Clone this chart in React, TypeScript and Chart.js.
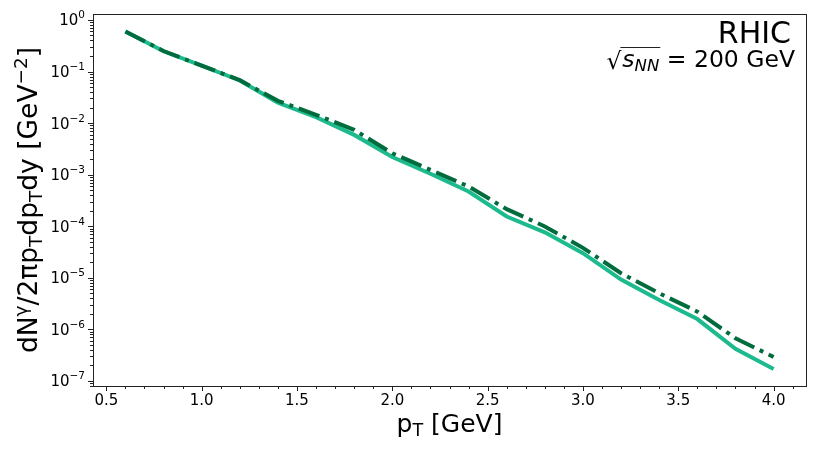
import { useEffect, useRef } from "react";
import { Chart, registerables } from "chart.js";

Chart.register(...registerables);

// ---- data ----
const pT = [0.6, 0.8, 1.0, 1.2, 1.4, 1.6, 1.8, 2.0, 2.2, 2.4, 2.6, 2.8, 3.0, 3.2, 3.4, 3.6, 3.8, 4.0];
const solidYield = [0.6, 0.247, 0.13, 0.067, 0.025, 0.013, 0.0059, 0.0022, 0.00104, 0.00047, 0.000154, 7.6e-5, 3.0e-5, 9.2e-6, 3.7e-6, 1.58e-6, 4.2e-7, 1.7e-7];
const dashYield = [0.6, 0.25, 0.13, 0.068, 0.027, 0.0145, 0.0074, 0.0026, 0.00124, 0.00059, 0.000214, 9.9e-5, 3.8e-5, 1.22e-5, 5.0e-6, 2.2e-6, 6.7e-7, 2.9e-7];
const xTickValues = [0.5, 1.0, 1.5, 2.0, 2.5, 3.0, 3.5, 4.0];
const xTickLabels = ["0.5", "1.0", "1.5", "2.0", "2.5", "3.0", "3.5", "4.0"];
const yDecades = [0, -1, -2, -3, -4, -5, -6, -7];

const FONT = "'DejaVu Sans', sans-serif";

type Seg = { t: string; s: number; dy?: number; it?: boolean };

function segFont(sg: Seg) {
  return `${sg.it ? "italic " : ""}${sg.s}px ${FONT}`;
}
function richWidth(ctx: CanvasRenderingContext2D, segs: Seg[]) {
  let w = 0;
  for (const sg of segs) {
    ctx.font = segFont(sg);
    w += ctx.measureText(sg.t).width;
  }
  return w;
}
function drawRich(ctx: CanvasRenderingContext2D, segs: Seg[], x: number, y: number, align: "left" | "center" | "right") {
  const w = richWidth(ctx, segs);
  let cx = align === "left" ? x : align === "center" ? x - w / 2 : x - w;
  ctx.textAlign = "left";
  ctx.textBaseline = "alphabetic";
  for (const sg of segs) {
    ctx.font = segFont(sg);
    ctx.fillText(sg.t, cx, y + (sg.dy || 0));
    cx += ctx.measureText(sg.t).width;
  }
}

const axesPlugin = {
  id: "mplAxes",
  afterDraw(chart: any) {
    const ctx: CanvasRenderingContext2D = chart.ctx;
    const { left, right, top, bottom } = chart.chartArea;
    const xs = chart.scales.x;
    const ys = chart.scales.y;
    ctx.save();
    ctx.strokeStyle = "#222";
    ctx.fillStyle = "#000";
    ctx.lineWidth = 1;
    // frame
    ctx.strokeRect(Math.round(left) + 0.5, Math.round(top) + 0.5, Math.round(right - left), Math.round(bottom - top));

    // x ticks
    ctx.beginPath();
    for (let i = 4; i <= 41; i++) {
      const v = i / 10;
      const px = Math.round(xs.getPixelForValue(v)) + 0.5;
      if (px < left || px > right) continue;
      const major = i % 5 === 0;
      ctx.moveTo(px, bottom);
      ctx.lineTo(px, bottom + (major ? 5 : 3));
    }
    ctx.stroke();
    ctx.font = `15px ${FONT}`;
    ctx.textAlign = "center";
    ctx.textBaseline = "alphabetic";
    xTickValues.forEach((v, i) => {
      ctx.fillText(xTickLabels[i], xs.getPixelForValue(v), bottom + 19);
    });

    // y ticks
    ctx.beginPath();
    for (let d = -8; d <= 0; d++) {
      for (let m = 1; m <= 9; m++) {
        const v = m * Math.pow(10, d);
        const py = Math.round(ys.getPixelForValue(v)) + 0.5;
        if (py < top - 0.5 || py > bottom + 0.5) continue;
        ctx.moveTo(left, py);
        ctx.lineTo(left - (m === 1 ? 5 : 3), py);
      }
    }
    ctx.stroke();
    yDecades.forEach((d) => {
      const py = ys.getPixelForValue(Math.pow(10, d));
      const exp = d === 0 ? "0" : "\u2212" + String(-d);
      drawRich(ctx, [{ t: "10", s: 15 }, { t: exp, s: 10.5, dy: -7 }], left - 8, py + 5.5, "right");
    });

    // x label
    drawRich(
      ctx,
      [
        { t: "p", s: 25 },
        { t: "T", s: 17.5, dy: 4 },
        { t: " [GeV]", s: 25 },
      ],
      (left + right) / 2,
      432,
      "center"
    );

    // y label
    ctx.save();
    ctx.translate(37, (top + bottom) / 2);
    ctx.rotate(-Math.PI / 2);
    drawRich(
      ctx,
      [
        { t: "dN", s: 26.5 },
        { t: "\u03b3", s: 18.5, dy: -10.5 },
        { t: "/2\u03c0p", s: 26.5 },
        { t: "T", s: 18.5, dy: 4.5 },
        { t: "dp", s: 26.5 },
        { t: "T", s: 18.5, dy: 4.5 },
        { t: "dy [GeV", s: 26.5 },
        { t: "\u22122", s: 18.5, dy: -10.5 },
        { t: "]", s: 26.5 },
      ],
      0,
      0,
      "center"
    );
    ctx.restore();

    // annotations
    drawRich(ctx, [{ t: "RHIC", s: 30 }], right - 15, 43, "right");

    const line2: Seg[] = [
      { t: "s", s: 23.5, it: true },
      { t: "NN", s: 16.5, dy: 4, it: true },
      { t: " = 200 GeV", s: 23.5 },
    ];
    const w2 = richWidth(ctx, line2);
    const x2 = right - 11 - w2;
    const base2 = 67;
    drawRich(ctx, line2, x2, base2, "left");
    // sqrt sign
    ctx.font = `23.5px ${FONT}`;
    const sqrtW = ctx.measureText("\u221a").width;
    ctx.textAlign = "left";
    ctx.fillText("\u221a", x2 - sqrtW - 1, base2 + 2);
    // overline over s_NN
    ctx.font = `italic 23.5px ${FONT}`;
    let sw = ctx.measureText("s").width;
    ctx.font = `italic 16.5px ${FONT}`;
    sw += ctx.measureText("NN").width;
    ctx.beginPath();
    ctx.lineWidth = 1;
    ctx.moveTo(x2 - 2, base2 - 19.5);
    ctx.lineTo(x2 + sw + 1, base2 - 19.5);
    ctx.stroke();

    ctx.restore();
  },
};

export default function App() {
  const ref = useRef<HTMLCanvasElement | null>(null);
  useEffect(() => {
    document.body.style.margin = "0";
    const canvas = ref.current;
    if (!canvas) return;
    const chart = new Chart(canvas, {
      type: "line",
      data: {
        datasets: [
          {
            label: "dash-dot",
            data: pT.map((x, i) => ({ x, y: dashYield[i] })),
            borderColor: "#006b3c",
            borderWidth: 4,
            borderDash: [22, 6, 4, 6],
            borderCapStyle: "butt",
            pointRadius: 0,
            fill: false,
            tension: 0,
            order: 0,
          },
          {
            label: "solid",
            data: pT.map((x, i) => ({ x, y: solidYield[i] })),
            borderColor: "#1cba8c",
            borderWidth: 4,
            pointRadius: 0,
            fill: false,
            tension: 0,
            order: 1,
          },
        ],
      },
      options: {
        responsive: false,
        animation: false,
        devicePixelRatio: 1,
        layout: { padding: { left: 93, right: 24, top: 14, bottom: 67 } },
        plugins: { legend: { display: false }, tooltip: { enabled: false } },
        scales: {
          x: { type: "linear", min: 0.43, max: 4.17, display: false },
          y: { type: "logarithmic", min: Math.pow(10, -7.1), max: Math.pow(10, 0.116), display: false },
        },
      },
      plugins: [axesPlugin],
    });
    return () => chart.destroy();
  }, []);
  return <canvas ref={ref} width={830} height={453} style={{ display: "block" }} />;
}
